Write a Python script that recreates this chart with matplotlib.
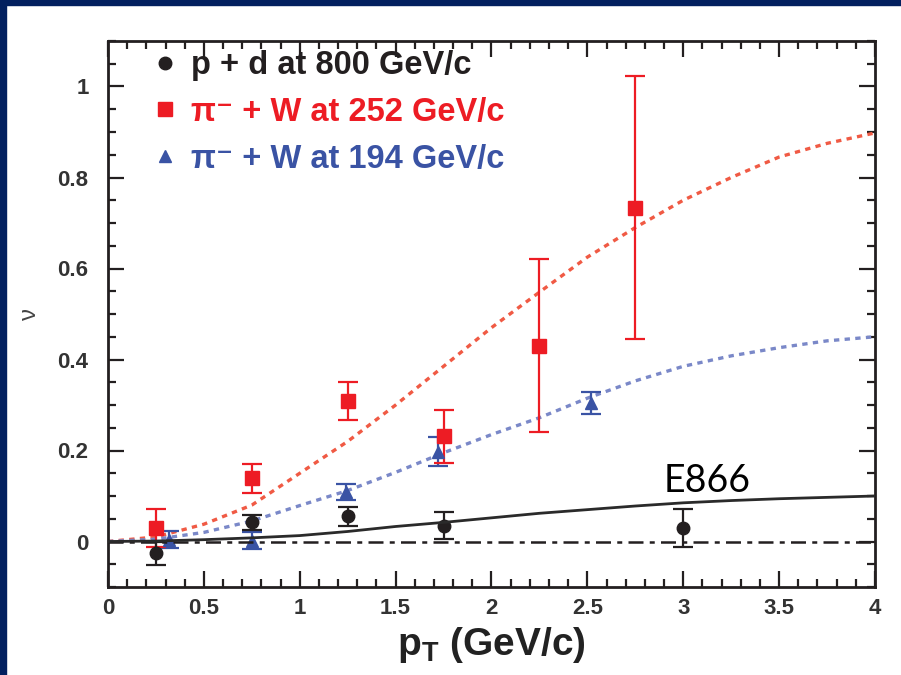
import matplotlib
matplotlib.use("Agg")
import matplotlib.pyplot as plt
from matplotlib.lines import Line2D
from matplotlib.patches import Rectangle
from matplotlib.ticker import MultipleLocator, FuncFormatter

plt.rcParams['font.family'] = ['Liberation Sans', 'DejaVu Sans']
plt.rcParams['font.weight'] = 'bold'
plt.rcParams['mathtext.fontset'] = 'custom'
plt.rcParams['mathtext.rm'] = 'Liberation Sans'
plt.rcParams['mathtext.bf'] = 'Liberation Sans:bold'
plt.rcParams['mathtext.default'] = 'regular'

# data points (pT, nu, error)
pd_x = [0.25, 0.75, 1.25, 1.75, 3.0]
pd_y = [-0.026, 0.042, 0.055, 0.035, 0.03]
pd_e = [0.025, 0.016, 0.02, 0.03, 0.042]

w252_x = [0.25, 0.75, 1.25, 1.75, 2.25, 2.75]
w252_y = [0.03, 0.139, 0.309, 0.231, 0.43, 0.734]
w252_e = [0.042, 0.032, 0.041, 0.059, 0.19, 0.29]

w194_x = [0.32, 0.75, 1.24, 1.72, 2.52]
w194_y = [0.004, 0.002, 0.109, 0.197, 0.305]
w194_e = [0.019, 0.018, 0.017, 0.032, 0.024]

# fitted curves
curve_x = [0, 0.25, 0.5, 0.75, 1.0, 1.25, 1.5, 1.75, 2.0, 2.25, 2.5, 2.75, 3.0, 3.25, 3.5, 3.75, 4.0]
fit_252 = [0, 0.01, 0.038, 0.08, 0.15, 0.22, 0.30, 0.385, 0.47, 0.548, 0.625, 0.69, 0.75, 0.80, 0.845, 0.875, 0.898]
fit_194 = [0, 0.005, 0.02, 0.045, 0.079, 0.112, 0.152, 0.195, 0.235, 0.272, 0.315, 0.353, 0.385, 0.408, 0.426, 0.441, 0.45]
fit_e866 = [0, 0.001, 0.004, 0.008, 0.013, 0.022, 0.033, 0.042, 0.052, 0.062, 0.07, 0.078, 0.085, 0.09, 0.094, 0.097, 0.1]

labels = ['p + d at 800 GeV/c', 'π⁻ + W at 252 GeV/c', 'π⁻ + W at 194 GeV/c']

black = '#231f20'
red = '#ed1c24'
blue = '#3a53a4'

fig = plt.figure(figsize=(9.01, 6.75), dpi=100)
fig.patches.append(Rectangle((0, 0), 6/901, 1, transform=fig.transFigure, color='#02205f', zorder=-1))
fig.patches.append(Rectangle((0, 1 - 5/675), 1, 5/675, transform=fig.transFigure, color='#02205f', zorder=-1))

ax = fig.add_axes([108/901, 88/675, 767/901, 546/675])

ax.plot(curve_x, fit_252, color='#f05a44', lw=2.4, dashes=(1.6, 1.6), zorder=2)
ax.plot(curve_x, fit_194, color='#7a88c8', lw=2.4, dashes=(1.6, 1.6), zorder=2)

ax.errorbar(w194_x, w194_y, yerr=w194_e, fmt='^', color=blue, ms=9, capsize=7, capthick=1.6, elinewidth=1.6, zorder=3)
ax.errorbar(w252_x, w252_y, yerr=w252_e, fmt='s', color=red, ms=10, capsize=7, capthick=1.6, elinewidth=1.6, zorder=3)
ax.errorbar(pd_x, pd_y, yerr=pd_e, fmt='o', color=black, ms=9, capsize=7, capthick=1.6, elinewidth=1.6, zorder=3)

ax.axhline(0, color=black, lw=1.8, dashes=(6, 2.5, 2, 2.5), zorder=4)
ax.plot(curve_x, fit_e866, color='#2a2a2a', lw=2, zorder=4)

ax.text(2.9, 0.108, 'E866', fontsize=27, fontweight='normal', family='Lato', color='black')

ax.set_xlim(0, 4)
ax.set_ylim(-0.1, 1.1)
ax.xaxis.set_major_locator(MultipleLocator(0.5))
ax.xaxis.set_minor_locator(MultipleLocator(0.1))
ax.yaxis.set_major_locator(MultipleLocator(0.2))
ax.yaxis.set_minor_locator(MultipleLocator(0.05))
fmt = FuncFormatter(lambda v, p: '%g' % round(v, 2))
ax.xaxis.set_major_formatter(fmt)
ax.yaxis.set_major_formatter(fmt)
ax.tick_params(which='both', direction='in', top=True, right=True, width=1.6, color=black, labelcolor='#333333', labelsize=16)
ax.tick_params(which='major', length=11.5)
ax.tick_params(which='minor', length=5.5)
ax.tick_params(axis='x', pad=8)
ax.tick_params(axis='y', pad=14)
for s in ax.spines.values():
    s.set_linewidth(2)
    s.set_color(black)

ax.set_xlabel(r'$\mathbf{p_T}$ (GeV/c)', fontsize=28, fontweight='bold', color='#222222', labelpad=4)
ax.set_ylabel('ν', fontsize=17, fontweight='normal', color='#444444', labelpad=12)

handles = [
    Line2D([], [], marker='o', ls='none', color=black, ms=9),
    Line2D([], [], marker='s', ls='none', color=red, ms=10),
    Line2D([], [], marker='^', ls='none', color=blue, ms=9),
]
leg = ax.legend(handles, labels, loc='upper left', bbox_to_anchor=(0.048, 0.998), frameon=False,
                fontsize=23.5, handlelength=0.75, handletextpad=0.42, labelspacing=0.48, borderaxespad=0,
                borderpad=0.25, labelcolor=[black, red, blue])

fig.savefig('out.png', dpi=100)
